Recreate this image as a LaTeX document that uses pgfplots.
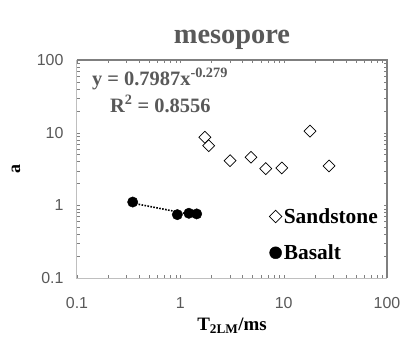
\documentclass[border=0pt]{standalone}
\usepackage{fontspec}
\setmainfont{Liberation Serif}
\newfontfamily\tickfont{Liberation Sans}
\usepackage{pgfplots}
\pgfplotsset{compat=1.18}
\definecolor{tgray}{HTML}{595959}
\definecolor{lgray}{HTML}{BFBFBF}
\definecolor{dgray}{HTML}{7F7F7F}
\begin{document}
\begin{tikzpicture}
\begin{axis}[
  at={(0,0)}, anchor=south west,
  scale only axis, width=310bp, height=218bp,
  xmode=log, ymode=log,
  xmin=0.1, xmax=100, ymin=0.1, ymax=100,
  xtick={0.1,1,10,100}, xticklabels={0.1,1,10,100},
  ytick={0.1,1,10,100}, yticklabels={0.1,1,10,100},
  minor tick num=0, minor xtick={}, minor ytick={},
  major tick length=0pt,
  axis line style={lgray, line width=1bp},
  ticklabel style={font=\tickfont\fontsize{16}{16}\selectfont, text=tgray},
  xticklabel style={yshift=-16bp},
  yticklabel style={xshift=-10bp},
  clip=false,
  legend style={at={(0.62,0.33)}, anchor=north west, draw=none, fill=none,
    font=\bfseries\fontsize{21.5}{21.5}\selectfont, row sep=16bp,
    inner sep=0pt},
  legend cell align=left,
  legend image code/.code={\draw[#1] plot coordinates {(0bp,0bp)};},
]
\addplot[only marks, mark=square, mark size=4.2bp, mark options={rotate=45, black, fill=white, line width=0.7bp},
  legend image post style={mark size=4.4bp}]
 coordinates {(1.73,8.65) (1.88,6.62) (3.03,4.12) (4.83,4.59) (6.71,3.20) (9.59,3.27) (18.0,10.5) (27.5,3.48)};
\addlegendentry{Sandstone}
\addplot[only marks, mark=*, mark size=5.2bp, mark options={black, fill=black},
  legend image post style={mark size=6bp}]
 coordinates {(0.346,1.11) (0.935,0.745) (1.21,0.778) (1.44,0.762)};
\addlegendentry{Basalt}
\addplot[black, line width=1.6bp, dash pattern=on 1.6bp off 1.4bp, forget plot]
 coordinates {(0.346,1.073) (1.44,0.721)};
\draw[dgray, line width=1.6bp] (rel axis cs:0,1) -- (rel axis cs:1,1) -- (rel axis cs:1,0);
\node[anchor=west, text=tgray, font=\bfseries\fontsize{20.5}{20.5}\selectfont, inner sep=0pt] at (rel axis cs:0.048,0.912) {y = 0.7987x\textsuperscript{-0.279}};
\node[anchor=west, text=tgray, font=\bfseries\fontsize{20.5}{20.5}\selectfont, inner sep=0pt] at (rel axis cs:0.106,0.798) {R\textsuperscript{2} = 0.8556};
\end{axis}
\node[text=tgray, font=\bfseries\fontsize{28.5}{28.5}\selectfont] at (155bp,238bp) {mesopore};
\node[font=\bfseries\fontsize{19}{19}\selectfont] at (155bp,-48bp) {T\textsubscript{2LM}/ms};
\node[rotate=90, font=\bfseries\fontsize{18}{18}\selectfont] at (-61bp,109bp) {a};
\path[use as bounding box] (-77bp,-76bp) rectangle (336bp,278bp);
\end{tikzpicture}
\end{document}
